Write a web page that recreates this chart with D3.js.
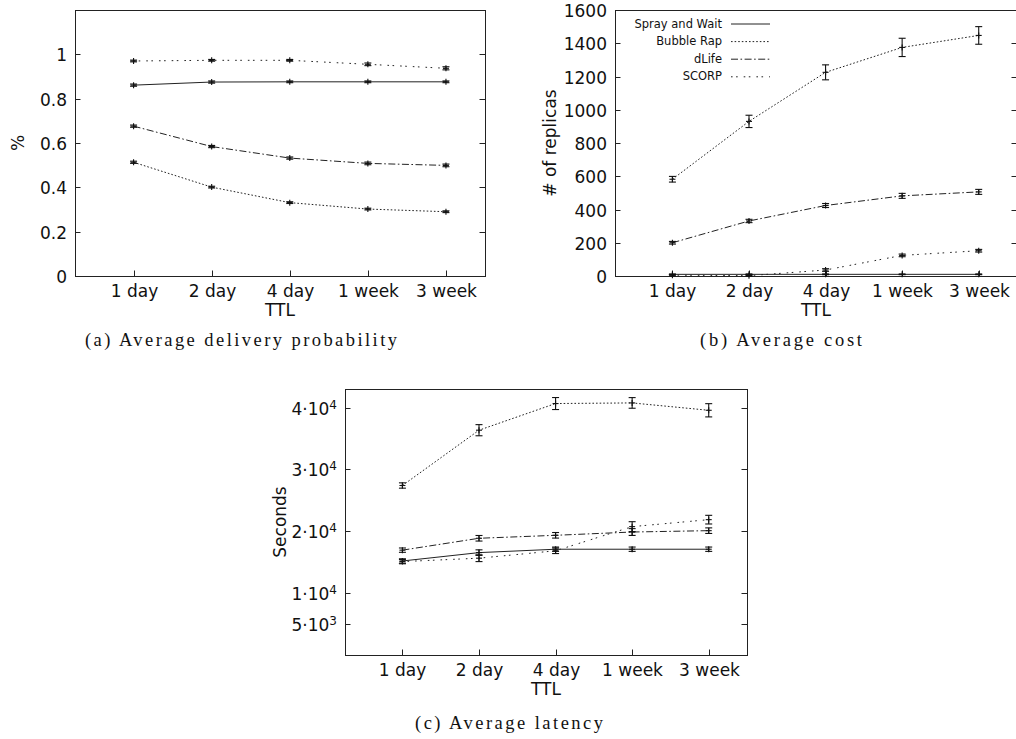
<!DOCTYPE html>
<html>
<head>
<meta charset="utf-8">
<script src="https://cdn.jsdelivr.net/npm/d3@7"></script>
<style>
  html, body { margin: 0; padding: 0; background: #fff; }
  svg { display: block; }
  .tick-label { font-family: "DejaVu Sans", sans-serif; font-size: 17px; fill: #111; }
  .axis-title { font-family: "DejaVu Sans", sans-serif; font-size: 17px; fill: #111; }
  .legend-label { font-family: "DejaVu Sans", sans-serif; font-size: 11.5px; fill: #111; }
  .caption { font-family: "Liberation Serif", "DejaVu Serif", serif; font-size: 18.5px; fill: #111; }
</style>
</head>
<body>
<svg id="chart" width="1016" height="739"></svg>
<script>
// TTL settings on the x axis
const ttlLabels = ["1 day", "2 day", "4 day", "1 week", "3 week"];
const methods = ["Spray and Wait", "Bubble Rap", "dLife", "SCORP"];

// (a) delivery probability
const probSprayWait = [0.861, 0.875, 0.876, 0.876, 0.876];
const probBubbleRap = [0.513, 0.401, 0.331, 0.302, 0.290];
const probDLife     = [0.676, 0.584, 0.532, 0.508, 0.499];
const probSCORP     = [0.970, 0.973, 0.973, 0.955, 0.937];
const probErrSprayWait = [0.005, 0.005, 0.004, 0.004, 0.004];
const probErrBubbleRap = [0.005, 0.004, 0.004, 0.004, 0.004];
const probErrDLife     = [0.005, 0.005, 0.005, 0.006, 0.006];
const probErrSCORP     = [0.004, 0.004, 0.004, 0.006, 0.007];
const probTicks = [0, 0.2, 0.4, 0.6, 0.8, 1];

// (b) cost, number of replicas
const costSprayWait = [10, 10, 10, 10, 10];
const costBubbleRap = [582, 930, 1225, 1375, 1447];
const costDLife     = [200, 331, 424, 482, 506];
const costSCORP     = [5, 2, 36, 124, 152];
const costErrSprayWait = [2, 2, 2, 2, 2];
const costErrBubbleRap = [17, 37, 45, 55, 53];
const costErrDLife     = [8, 10, 12, 15, 15];
const costErrSCORP     = [4, 3, 8, 8, 8];
const costTicks = [0, 200, 400, 600, 800, 1000, 1200, 1400, 1600];

// (c) latency in seconds
const latSprayWait = [15200, 16550, 17100, 17100, 17100];
const latBubbleRap = [27400, 36340, 40650, 40750, 39560];
const latDLife     = [16950, 18870, 19350, 19880, 20100];
const latSCORP     = [15100, 15650, 16850, 20750, 21880];
const latErrSprayWait = [350, 450, 350, 350, 350];
const latErrBubbleRap = [430, 900, 970, 860, 1070];
const latErrDLife     = [350, 450, 450, 550, 450];
const latErrSCORP     = [350, 550, 450, 800, 700];
const latTicks = [5000, 10000, 20000, 30000, 40000];
const latTickText = [["5·10", "3"], ["1·10", "4"], ["2·10", "4"], ["3·10", "4"], ["4·10", "4"]];

// line styles per method
const dashes = {
  "Spray and Wait": null,
  "Bubble Rap": "1.6,2",
  "dLife": "7,2.5,1.6,2.5",
  "SCORP": "1.6,3.5,1.6,6"
};

const svg = d3.select("#chart");

function drawPanel(cfg) {
  const g = svg.append("g");
  const x = d3.scaleLinear().domain([-0.75, 4.5]).range([cfg.left, cfg.right]);
  const y = d3.scaleLinear().domain(cfg.yDomain).range([cfg.bottom, cfg.top]);
  const tickLen = 5.5;

  // y ticks: inward on left and mirrored on right
  cfg.yTicks.forEach((t, i) => {
    const py = Math.round(y(t)) + 0.5;
    g.append("line").attr("x1", cfg.left).attr("x2", cfg.left + tickLen)
      .attr("y1", py).attr("y2", py).attr("stroke", "#222").attr("stroke-width", 1);
    g.append("line").attr("x1", cfg.right - tickLen).attr("x2", cfg.right)
      .attr("y1", py).attr("y2", py).attr("stroke", "#222").attr("stroke-width", 1);
    const txt = g.append("text").attr("class", "tick-label")
      .attr("x", cfg.left - 8).attr("y", py).attr("dy", "0.36em")
      .attr("text-anchor", "end");
    if (cfg.tickText) {
      const parts = cfg.tickText[i];
      txt.append("tspan").text(parts[0]);
      txt.append("tspan").attr("dy", "-0.45em").attr("font-size", "12px").text(parts[1]);
    } else {
      txt.text(cfg.yFormat(t));
    }
  });

  // x ticks inward from bottom
  ttlLabels.forEach((lab, i) => {
    const px = Math.round(x(i)) + 0.5;
    g.append("line").attr("x1", px).attr("x2", px)
      .attr("y1", cfg.bottom).attr("y2", cfg.bottom - tickLen)
      .attr("stroke", "#222").attr("stroke-width", 1);
    g.append("text").attr("class", "tick-label")
      .attr("x", px).attr("y", cfg.bottom + 21)
      .attr("text-anchor", "middle").text(lab);
  });

  // frame
  g.append("rect").attr("x", cfg.left + 0.5).attr("y", cfg.top + 0.5)
    .attr("width", cfg.right - cfg.left).attr("height", cfg.bottom - cfg.top)
    .attr("fill", "none").attr("stroke", "#222").attr("stroke-width", 1);

  // axis titles
  g.append("text").attr("class", "axis-title")
    .attr("x", (cfg.left + cfg.right) / 2).attr("y", cfg.bottom + 40)
    .attr("text-anchor", "middle").text("TTL");
  g.append("text").attr("class", "axis-title")
    .attr("transform", `translate(${cfg.yTitleX},${(cfg.top + cfg.bottom) / 2}) rotate(-90)`)
    .attr("text-anchor", "middle").text(cfg.yTitle);

  // series
  const line = d3.line().x((d, i) => x(i)).y(d => y(d));
  cfg.series.forEach(s => {
    g.append("path").datum(s.values).attr("d", line)
      .attr("fill", "none").attr("stroke", "#222").attr("stroke-width", 1)
      .attr("stroke-dasharray", dashes[s.name]);
    s.values.forEach((v, i) => {
      const px = x(i), e = s.err[i];
      const y1 = y(v - e), y2 = y(v + e);
      const eb = g.append("g").attr("stroke", "#111").attr("stroke-width", 1.1);
      eb.append("line").attr("x1", px).attr("x2", px).attr("y1", y1).attr("y2", y2);
      eb.append("line").attr("x1", px - 3.5).attr("x2", px + 3.5).attr("y1", y1).attr("y2", y1);
      eb.append("line").attr("x1", px - 3.5).attr("x2", px + 3.5).attr("y1", y2).attr("y2", y2);
      // point marker
      eb.append("line").attr("x1", px - 3).attr("x2", px + 3).attr("y1", y(v)).attr("y2", y(v));
      eb.append("line").attr("x1", px).attr("x2", px).attr("y1", y(v) - 3).attr("y2", y(v) + 3);
    });
  });

  if (cfg.legend) {
    methods.forEach((m, i) => {
      const ly = cfg.legend.y + i * cfg.legend.step;
      g.append("text").attr("class", "legend-label")
        .attr("x", cfg.legend.x).attr("y", ly).attr("dy", "0.35em")
        .attr("text-anchor", "end").text(m);
      g.append("line").attr("x1", cfg.legend.x + 9).attr("x2", cfg.legend.x + 48)
        .attr("y1", ly + 0.5).attr("y2", ly + 0.5)
        .attr("stroke", "#222").attr("stroke-width", 1)
        .attr("stroke-dasharray", dashes[m]);
    });
  }

  g.append("text").attr("class", "caption")
    .attr("x", cfg.caption.x).attr("y", cfg.caption.y)
    .attr("textLength", cfg.caption.w).attr("lengthAdjust", "spacing")
    .text(cfg.caption.text);
}

drawPanel({
  left: 75, right: 485, top: 10, bottom: 276,
  yDomain: [0, 1.2], yTicks: probTicks, yFormat: d => d3.format("")(d),
  yTitle: "%", yTitleX: 24,
  series: [
    { name: "Spray and Wait", values: probSprayWait, err: probErrSprayWait },
    { name: "Bubble Rap", values: probBubbleRap, err: probErrBubbleRap },
    { name: "dLife", values: probDLife, err: probErrDLife },
    { name: "SCORP", values: probSCORP, err: probErrSCORP }
  ],
  caption: { x: 85, y: 346, w: 312, text: "(a)  Average delivery probability" }
});

drawPanel({
  left: 615, right: 1017, top: 10, bottom: 276,
  yDomain: [0, 1600], yTicks: costTicks, yFormat: d => String(d),
  yTitle: "# of replicas", yTitleX: 556,
  series: [
    { name: "Spray and Wait", values: costSprayWait, err: costErrSprayWait },
    { name: "Bubble Rap", values: costBubbleRap, err: costErrBubbleRap },
    { name: "dLife", values: costDLife, err: costErrDLife },
    { name: "SCORP", values: costSCORP, err: costErrSCORP }
  ],
  legend: { x: 722, y: 23.5, step: 17.6 },
  caption: { x: 700, y: 346, w: 162, text: "(b)  Average cost" }
});

drawPanel({
  left: 345, right: 747, top: 389, bottom: 655,
  yDomain: [0, 43000], yTicks: latTicks, tickText: latTickText,
  yTitle: "Seconds", yTitleX: 286,
  series: [
    { name: "Spray and Wait", values: latSprayWait, err: latErrSprayWait },
    { name: "Bubble Rap", values: latBubbleRap, err: latErrBubbleRap },
    { name: "dLife", values: latDLife, err: latErrDLife },
    { name: "SCORP", values: latSCORP, err: latErrSCORP }
  ],
  caption: { x: 415, y: 729, w: 188, text: "(c)  Average latency" }
});
</script>
</body>
</html>
